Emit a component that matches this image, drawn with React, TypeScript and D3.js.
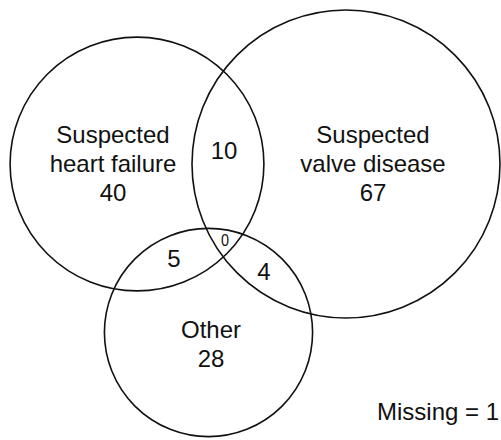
import * as d3 from "d3";
import React from 'react'

// set totals and region counts
const setNames = ["Suspected heart failure", "Suspected valve disease", "Other"]
const onlyCounts = [40, 67, 28]
const pairCounts = [10, 5, 4] // HF&VD, HF&Other, VD&Other
const allThree = 0
const missing = 1

const width = 501
const height = 440

// circle centres (layout only)
const centres: [number, number][] = [[137, 164], [346, 164], [208.5, 332.5]]

const totals = [
  onlyCounts[0] + pairCounts[0] + pairCounts[1] + allThree,
  onlyCounts[1] + pairCounts[0] + pairCounts[2] + allThree,
  onlyCounts[2] + pairCounts[1] + pairCounts[2] + allThree,
]

const rScale = d3.scaleSqrt()
  .domain([0, d3.max(totals) as number])
  .range([0, 154])

const font = "'Liberation Sans', Arial, sans-serif"

export default function App() {
  const labelPos: [number, number][] = [[113, 143], [373, 143], [211, 337.5]]
  const labelLines = [
    ["Suspected", "heart failure", String(onlyCounts[0])],
    ["Suspected", "valve disease", String(onlyCounts[1])],
    [setNames[2], String(onlyCounts[2])],
  ]
  const pairPos: [number, number][] = [[224, 158.5], [174, 266.5], [264, 279.5]]

  return (
    <svg width={width} height={height} style={{ position: 'absolute', left: 0, top: 0 }}
      fontFamily={font}>
      <rect width={width} height={height} fill="#fff" />
      {totals.map((t, i) => (
        <circle key={i} cx={centres[i][0]} cy={centres[i][1]} r={rScale(t)}
          fill="none" stroke="#111" strokeWidth={1.6} />
      ))}
      {labelLines.map((lines, i) => (
        <text key={i} textAnchor="middle" fontSize={24} fill="#111">
          {lines.map((l, j) => (
            <tspan key={j} x={labelPos[i][0]} y={labelPos[i][1] + j * 29}>{l}</tspan>
          ))}
        </text>
      ))}
      {pairCounts.map((c, i) => (
        <text key={i} x={pairPos[i][0]} y={pairPos[i][1]} textAnchor="middle"
          fontSize={24} fill="#111">{c}</text>
      ))}
      <text x={225} y={246.5} textAnchor="middle" fontSize={16} fill="#111"
        transform="translate(225,246.5) scale(0.9,1.05) translate(-225,-246.5)">{allThree}</text>
      <text x={377} y={419.5} fontSize={24} fill="#111">Missing = {missing}</text>
    </svg>
  )
}
